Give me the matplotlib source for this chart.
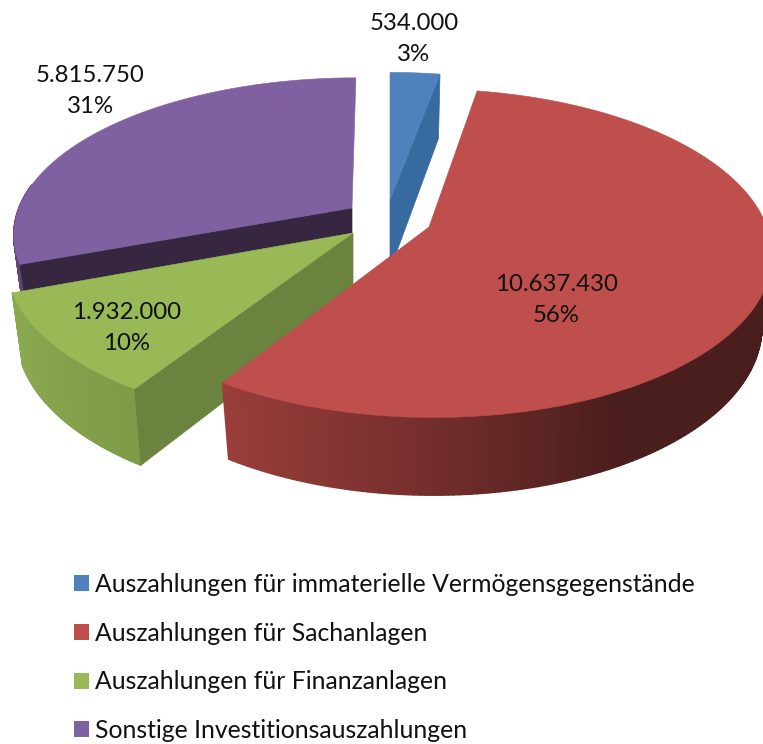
import numpy as np
import matplotlib
matplotlib.use("Agg")
import matplotlib.pyplot as plt
from matplotlib.collections import PolyCollection
from matplotlib.colors import LinearSegmentedColormap
from matplotlib.patches import Patch, Polygon

categories = ["Auszahlungen für immaterielle Vermögensgegenstände",
              "Auszahlungen für Sachanlagen",
              "Auszahlungen für Finanzanlagen",
              "Sonstige Investitionsauszahlungen"]
values = [534000, 10637430, 1932000, 5815750]

plt.rcParams['font.family'] = ['Lato', 'DejaVu Sans']
W, H = 763, 744
fig = plt.figure(figsize=(W/100, H/100), dpi=100)
ax = fig.add_axes([0, 0, 1, 1])
ax.set_xlim(0, W); ax.set_ylim(H, 0); ax.axis('off')

top_cols = ['#4F81BD', '#BE4F4C', '#98B956', '#7F60A0']
cut_cols = ['#376A9E', '#8E3836', '#6A843F', '#362640']
wall_maps = [
    [(0, '#376A9E'), (1, '#376A9E')],
    [(0, '#4A1E1C'), (0.70, '#4A1E1C'), (0.85, '#772F2D'), (1, '#9A3E3B')],
    [(0, '#7E9B48'), (1, '#8AAA50')],
    [(0, '#5E4678'), (1, '#5E4678')],
]
apex = [(390, 200), (429, 227), (353, 233), (352, 208)]
Aw = [328, 338, 341, 333]
Bh = [148, 160, 160, 151]
skew = [0, 0.025, -0.04, -0.03]
K, D, SHRINK = 0.16, 70, 0.97
label_pos = [(414, 39), (556, 300), (127, 328), (90, 91)]
draw_order = [3, 0, 2, 1]

total = sum(values)
edges = np.r_[0, np.cumsum(values)] / total * 2 * np.pi


def project(t, i, z):
    t = np.atleast_1d(t)
    d = 1 + K * np.cos(t)
    f = SHRINK if z else 1.0
    dy = -Bh[i] * np.cos(t) / d
    return np.c_[apex[i][0] + f * (Aw[i] * np.sin(t) / d + skew[i] * dy),
                 apex[i][1] + f * dy + (D / d if z else 0)]


def cut_face(i, angle):
    ap_t = np.array(apex[i], float)
    ap_b = ap_t + [0, D]
    face = [ap_t, project(angle, i, 0)[0], project(angle, i, 1)[0], ap_b]
    ax.add_patch(Polygon(face, fc=cut_cols[i], ec=cut_cols[i], lw=0.5))


# which radial faces turn towards the viewer: (slice, edge index)
visible_cuts = {0: [1], 1: [], 2: [2], 3: [3]}
# the far part of the rim never shows
front_from, front_to = np.pi * 0.5, np.pi * 1.55

for i in draw_order:
    t = np.linspace(edges[i], edges[i+1], 240)
    T = project(t, i, 0)
    tw = t[(t > front_from) & (t < front_to)]
    if len(tw) > 1:
        Tw, Bw = project(tw, i, 0), project(tw, i, 1)
        cmap = LinearSegmentedColormap.from_list('w', wall_maps[i], N=1024)
        quads = [[Tw[j], Tw[j+1], Bw[j+1], Bw[j]] for j in range(len(tw)-1)]
        cols = cmap((tw[:-1]-t[0])/(t[-1]-t[0]))
        ax.add_collection(PolyCollection(quads, facecolors=cols, edgecolors=cols, linewidths=1.2))
    for e in visible_cuts[i]:
        cut_face(i, edges[e])
    ax.add_patch(Polygon(np.vstack([[apex[i]], T]), fc=top_cols[i], ec=top_cols[i], lw=0.4))

for v, (x, y) in zip(values, label_pos):
    txt = f"{v:,}".replace(",", ".") + f"\n{round(100*v/total)}%"
    ax.text(x, y, txt, ha='center', va='center', fontsize=17.3, color='#111111', linespacing=1.55)

handles = [Patch(fc=c, ec='none') for c in top_cols]
ax.legend(handles, categories, loc='upper left', bbox_to_anchor=(74/W, 1-573/H), frameon=False,
          fontsize=17.8, handlelength=0.62, handleheight=0.62, handletextpad=0.22,
          labelspacing=1.04, borderpad=0, borderaxespad=0, labelcolor='#111111')
fig.savefig('out.png', dpi=100, facecolor='white')
